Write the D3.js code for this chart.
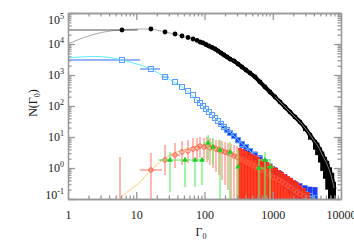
<!DOCTYPE html>
<html>
<head>
<meta charset="utf-8">
<script src="https://cdn.jsdelivr.net/npm/d3@7"></script>
<style>
body { margin: 0; background: #fff; }
svg text { font-family: "Liberation Serif", "DejaVu Serif", serif; fill: #222; }
</style>
</head>
<body>
<div id="chart"></div>
<script>
// black series (filled dots)
var blackG = [6.18,16.4,26.4,37.0,46.8,57.3,67.9,77.6,85.9,95.1,105,116,129,143,158,175,193,214,236,271,310,354,405,464,550,651,770,912,1080,1277,1512,1790,2119,2507,2969,3514,4159,4480,4923,5310,5829,6290,6900,7440,7895];
var blackN = [28300,30500,24400,21000,18100,16200,14500,13000,11600,10800,9640,8610,7710,6900,5950,5130,4420,3810,3280,2830,2260,1810,1450,1160,861,594,410,283,195,135,92.9,64.0,44.2,30.5,19.5,11.6,6.90,5.52,3.81,2.63,1.81,1.25,0.743,0.41,0.226];
var blackLo = [28300,30500,24400,21000,18100,16200,14500,13000,11600,10800,9640,8610,7710,6900,5950,5130,4420,3810,3280,2830,2260,1810,1450,1160,861,594,410,283,195,135,92.9,64.0,44.2,30.5,15.5,8.2,3.9,2.6,1.5,0.8,0.45,0.2,0.08,0.05,0.05];
var blackHi = [28300,30500,24400,21000,18100,16200,14500,13000,11600,10800,9640,8610,7710,6900,5950,5130,4420,3810,3280,2830,2260,1810,1450,1160,861,594,410,283,195,135,92.9,64.0,44.2,30.5,20.5,12.5,7.9,6.6,4.6,3.4,2.3,1.7,1.05,0.7,0.36];
var blackGlo = [1, 16.4];
var blackGhi = [10.5, 16.4];
var blackModelG = [1,1.5,2.49,4.12,6.18,11.4,16.4,26.4,46.8,85.9,158,271,464,912,1790,3514,4923,6900,7895];
var blackModelN = [10000,14500,21000,26200,28300,30500,30000,24400,18100,11600,5950,2830,1160,283,64.0,11.6,3.81,0.9,0.35];

// blue series (open squares)
var blueG = [6.18,16.4,26.4,37.0,46.8,57.3,67.9,77.6,85.9,95.1,105,116,129,143,158,175,193,214,236,271,310,354,405,464,550,651,770,912,1080,1277,1512,1790,2119,2507,2969,3514,4159];
var blueN = [3050,1560,861,594,410,305,226,156,125,100,80,64,51.3,41,32.8,26.3,21.0,16.8,13.5,10.8,8.0,5.94,4.76,3.53,2.63,1.95,1.45,1.0,0.743,0.552,0.410,0.305,0.226,0.181,0.145,0.125,0.108];
var blueErr = [0,0,0,0,0,0,0,0,0,0,0,0,0,0,0,0.02,0.03,0.04,0.05,0.06,0.07,0.08,0.09,0.1,0.11,0.12,0.13,0.14,0.15,0.16,0.18,0.2,0.22,0.25,0.28,0.3,0.35];
var blueGlo = [1, 11.4, 23.5];
var blueGhi = [11.4, 22.3, 30];
var blueModelG = [1,1.5,2.49,4.12,6.18,11.4,16.4,26.4,46.8,85.9,158,271,464,912,1790,3514,4159];
var blueModelN = [3530,3810,3960,3670,3050,2100,1560,861,410,125,32.8,10.8,3.53,1.0,0.305,0.125,0.108];

// red series (circles with error bars)
var redG = [5.78,16.4,26.4,37.0,46.8,57.3,67.9,77.6,85.9,98.4,109,120,133,147,163,180,200,221,245,271,299,331,366,405,449,497,550,608,673,745,824,912,1009,1116,1236,1367,1512,1673,1851,2048,2265,2507,2871,3283];
var redN = [0.08,0.861,1.81,2.63,3.28,3.53,4.10,4.42,5.13,4.76,5.13,4.42,4.76,4.10,3.81,3.53,3.28,3.05,2.83,2.44,2.26,1.95,1.81,1.56,1.45,1.25,1.16,1.0,0.861,0.80,0.69,0.594,0.513,0.475,0.41,0.353,0.305,0.262,0.226,0.195,0.168,0.145,0.125,0.108];
var redHi = [2.26,3.05,5.52,6.4,7.43,8.0,9.29,9.29,10,9.29,10,9.29,8.62,8.0,8.0,7.43,6.9,6.4,5.94,5.52,5.13,4.42,4.10,3.53,3.28,2.83,2.63,2.26,1.95,1.81,1.56,1.35,1.16,1.0,0.861,0.743,0.64,0.552,0.475,0.41,0.353,0.283,0.226,0.168];
var redLo = [0.05,0.05,0.594,1.0,1.25,1.45,1.81,1.81,2.10,1.81,1.56,1.25,1.0,0.743,0.594,0.41,0.283,0.195,0.05,0.05,0.05,0.05,0.05,0.05,0.05,0.05,0.05,0.05,0.05,0.05,0.05,0.05,0.05,0.05,0.05,0.05,0.05,0.05,0.05,0.05,0.05,0.05,0.05,0.05];
var redGlo = [0, 11.4, 22.3, 31.2];
var redGhi = [0, 23.9, 31.2, 43.8];
var redModelG = [5.78,8.10,11.4,15.9,22.3,31.2,43.8,61.3,86,120,169,271,392,550,770,1116];
var redModelN = [0.108,0.195,0.353,0.80,1.56,2.63,3.53,4.42,5.13,5.13,4.42,2.44,1.16,0.513,0.226,0.1];

// green series
var greenG = [31.2,51.8,72.6,91.9,113,133,169,236,310,629,770,912];
var greenN = [1.81,1.81,1.81,1.81,6.40,4.76,3.81,3.28,1.08,1.0,1.81,1.08];
var greenHi = [3.28,2.26,2.10,2.10,11.6,9.29,8.0,6.9,3.81,1.95,3.28,1.95];
var greenLo = [0.168,0.244,0.244,0.283,1.81,1.25,0.05,0.05,0.05,0.05,0.05,0.05];
var greenGlo = [20.8,43.8,61.3,77.6,95.1,133,169,236,310,569,629,824];
var greenGhi = [48.4,61.3,86,102,129,133,169,236,310,745,942,1043];

var xMajor = [1,10,100,1000,10000];
var yMajor = [0.1,1,10,100,1000,10000,100000];
var yExp = [-1,0,1,2,3,4,5];

var width = 354, height = 245;
var padL = 68, padR = 341, padT = 13, padB = 199;

var x = d3.scaleLog().domain([1,10000]).range([padL,padR]);
var y = d3.scaleLog().domain([0.1,100000]).range([padB,padT]);

var svg = d3.select("#chart").append("svg")
	.attr("width", width)
	.attr("height", height);

svg.append("defs").append("clipPath").attr("id","plotclip")
	.append("rect").attr("x",padL).attr("y",padT).attr("width",padR-padL).attr("height",padB-padT);

var plot = svg.append("g").attr("clip-path","url(#plotclip)");

var minorX = [];
for(var d = 1; d < 10000; d *= 10){
	for(var k = 2; k <= 9; k++) minorX.push(d*k);
}
var minorY = [];
for(var d = 0.1; d < 99999; d *= 10){
	for(var k = 2; k <= 9; k++) minorY.push(d*k);
}

var line = d3.line().x(function(d){ return x(d[0]); }).y(function(d){ return y(d[1]); }).curve(d3.curveMonotoneX);

// black
plot.append("path")
	.datum(blackModelG.map(function(g,i){ return [g, blackModelN[i]]; }))
	.attr("d", line).attr("fill","none").attr("stroke","#aaa").attr("stroke-width",1);
for(var i = 0; i < blackGlo.length; i++){
	plot.append("line")
		.attr("x1", x(blackGlo[i])).attr("x2", x(blackGhi[i]))
		.attr("y1", y(blackN[i])).attr("y2", y(blackN[i]))
		.attr("stroke","#555").attr("stroke-width",1);
}
var blackTail = [];
for(var i = 8; i < blackG.length; i++) blackTail.push([blackG[i], blackN[i]]);
plot.append("path").datum(blackTail).attr("d", line)
	.attr("fill","none").attr("stroke","#000").attr("stroke-width",4);
plot.selectAll(".berr").data(blackG).enter().append("line")
	.attr("x1", function(d){ return x(d); }).attr("x2", function(d){ return x(d); })
	.attr("y1", function(d,i){ return y(blackHi[i]); })
	.attr("y2", function(d,i){ return y(blackLo[i]); })
	.attr("stroke","#000").attr("stroke-width",4);
plot.selectAll(".bdot").data(blackG).enter().append("circle")
	.attr("cx", function(d){ return x(d); })
	.attr("cy", function(d,i){ return y(blackN[i]); })
	.attr("r", 2.4).attr("fill","#000");
plot.append("path").datum(blackTail.slice(20)).attr("d", line)
	.attr("fill","none").attr("stroke","#999").attr("stroke-width",0.8);

// blue
for(var i = 0; i < blueGlo.length; i++){
	plot.append("line")
		.attr("x1", x(blueGlo[i])).attr("x2", x(blueGhi[i]))
		.attr("y1", y(blueN[i])).attr("y2", y(blueN[i]))
		.attr("stroke","#3a66ff").attr("stroke-width",1);
}
plot.selectAll(".uerr").data(blueG).enter().append("line")
	.attr("x1", function(d){ return x(d); }).attr("x2", function(d){ return x(d); })
	.attr("y1", function(d,i){ return y(blueN[i]*Math.pow(10, blueErr[i])); })
	.attr("y2", function(d,i){ return y(blueN[i]/Math.pow(10, blueErr[i]*1.5)); })
	.attr("stroke","#1f3cff").attr("stroke-width",5);
plot.append("path")
	.datum(blueModelG.map(function(g,i){ return [g, blueModelN[i]]; }))
	.attr("d", line).attr("fill","none").attr("stroke","#5eeeff").attr("stroke-width",1);
plot.selectAll(".usq").data(blueG).enter().append("rect")
	.attr("x", function(d){ return x(d)-2.5; })
	.attr("y", function(d,i){ return y(blueN[i])-2.5; })
	.attr("width", 5).attr("height", 5)
	.attr("fill","none").attr("stroke","#5c9cff").attr("stroke-width",1);

// red
plot.append("path")
	.datum(redModelG.map(function(g,i){ return [g, redModelN[i]]; }))
	.attr("d", line).attr("fill","none").attr("stroke","#ffb830").attr("stroke-width",1)
	.attr("stroke-dasharray","2,1");
for(var i = 1; i < redGlo.length; i++){
	plot.append("line")
		.attr("x1", x(redGlo[i])).attr("x2", x(redGhi[i]))
		.attr("y1", y(redN[i])).attr("y2", y(redN[i]))
		.attr("stroke","#ff7a66").attr("stroke-width",1.5).attr("opacity",0.7);
}
plot.selectAll(".rerr").data(redG).enter().append("line")
	.attr("x1", function(d){ return x(d); }).attr("x2", function(d){ return x(d); })
	.attr("y1", function(d,i){ return y(redHi[i]); })
	.attr("y2", function(d,i){ return y(redLo[i]); })
	.attr("stroke", function(d){ return d > 300 ? "#ff2a10" : "#ff8a78"; })
	.attr("stroke-width", function(d){ return d > 300 ? 4 : 2; })
	.attr("opacity", function(d){ return d > 300 ? 0.9 : 0.6; });
plot.selectAll(".rdot").data(redG).enter().append("circle")
	.attr("cx", function(d){ return x(d); })
	.attr("cy", function(d,i){ return y(redN[i]); })
	.attr("r", 2.2).attr("fill","none").attr("stroke","#ff5a40").attr("stroke-width",1);

// green
plot.selectAll(".gxerr").data(greenG).enter().append("line")
	.attr("x1", function(d,i){ return x(greenGlo[i]); }).attr("x2", function(d,i){ return x(greenGhi[i]); })
	.attr("y1", function(d,i){ return y(greenN[i]); }).attr("y2", function(d,i){ return y(greenN[i]); })
	.attr("stroke","#66ee66").attr("stroke-width",1);
plot.selectAll(".gerr").data(greenG).enter().append("line")
	.attr("x1", function(d){ return x(d); }).attr("x2", function(d){ return x(d); })
	.attr("y1", function(d,i){ return y(greenHi[i]); })
	.attr("y2", function(d,i){ return y(greenLo[i]); })
	.attr("stroke","#66ee66").attr("stroke-width",1.2);
plot.selectAll(".gdot").data(greenG).enter().append("path")
	.attr("transform", function(d,i){ return "translate(" + x(d) + "," + y(greenN[i]) + ")"; })
	.attr("d", d3.symbol().type(d3.symbolTriangle).size(14))
	.attr("fill","#22cc22");

// axes
var axisColor = "#999";
function styleAxis(g){
	g.selectAll("path, line").attr("stroke", axisColor).attr("stroke-width", 1.3);
}
svg.append("g").attr("transform","translate(0," + padB + ")")
	.call(d3.axisBottom(x).tickValues(xMajor).tickSize(-7).tickSizeOuter(0).tickPadding(11).tickFormat(d3.format("d")))
	.call(styleAxis)
	.call(function(g){ g.selectAll("text").attr("font-size", 12).attr("font-family", "Liberation Serif").attr("fill","#222"); });
svg.append("g").attr("transform","translate(0," + padB + ")")
	.call(d3.axisBottom(x).tickValues(minorX).tickSize(-3.5).tickSizeOuter(0).tickFormat(""))
	.call(styleAxis);
svg.append("g").attr("transform","translate(0," + padT + ")")
	.call(d3.axisTop(x).tickValues(xMajor).tickSize(-7).tickSizeOuter(0).tickFormat(""))
	.call(styleAxis);
svg.append("g").attr("transform","translate(0," + padT + ")")
	.call(d3.axisTop(x).tickValues(minorX).tickSize(-3.5).tickSizeOuter(0).tickFormat(""))
	.call(styleAxis);
svg.append("g").attr("transform","translate(" + padL + ",0)")
	.call(d3.axisLeft(y).tickValues(yMajor).tickSize(-7).tickSizeOuter(0).tickFormat(""))
	.call(styleAxis);
svg.append("g").attr("transform","translate(" + padL + ",0)")
	.call(d3.axisLeft(y).tickValues(minorY).tickSize(-3.5).tickSizeOuter(0).tickFormat(""))
	.call(styleAxis);
svg.append("g").attr("transform","translate(" + padR + ",0)")
	.call(d3.axisRight(y).tickValues(yMajor).tickSize(-7).tickSizeOuter(0).tickFormat(""))
	.call(styleAxis);
svg.append("g").attr("transform","translate(" + padR + ",0)")
	.call(d3.axisRight(y).tickValues(minorY).tickSize(-3.5).tickSizeOuter(0).tickFormat(""))
	.call(styleAxis);

// y tick labels with exponents
var ylab = svg.append("g").selectAll("text").data(yMajor).enter().append("text")
	.attr("x", padL - 4)
	.attr("y", function(d){ return Math.min(Math.max(y(d), 20), 195) + 4; })
	.attr("text-anchor","end")
	.attr("font-size", 12);
ylab.append("tspan").text("10");
ylab.append("tspan").attr("dy", -5).attr("font-size", 8).text(function(d,i){ return yExp[i]; });

// axis titles
svg.append("text")
	.attr("x", 201).attr("y", 236)
	.attr("text-anchor","middle").attr("font-size", 12)
	.text("Γ").append("tspan").attr("dy", 3).attr("font-size", 8).text("0");
var yt = svg.append("text")
	.attr("transform","translate(37,103) rotate(-90)")
	.attr("text-anchor","middle").attr("font-size", 12);
yt.append("tspan").text("N(Γ");
yt.append("tspan").attr("dy", 3).attr("font-size", 8).text("0");
yt.append("tspan").attr("dy", -3).text(")");
</script>
</body>
</html>
